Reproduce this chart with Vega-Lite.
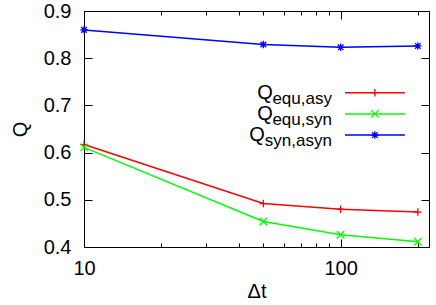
{
  "$schema": "https://vega.github.io/schema/vega-lite/v6.json",
  "width": 345,
  "height": 236,
  "autosize": {"type": "none"},
  "padding": {"left": 84, "top": 11, "right": 7, "bottom": 58},
  "background": "white",
  "config": {
    "font": "Liberation Sans",
    "view": {"stroke": "black", "strokeWidth": 1, "fill": null},
    "axis": {
      "grid": false,
      "labelColor": "black",
      "labelFontSize": 20,
      "titleColor": "black",
      "titleFontSize": 20,
      "titleFontWeight": "normal"
    }
  },
  "datasets": {
    "main": [
      {"dt": 10, "Q": 0.617, "series": "equ,asy"},
      {"dt": 50, "Q": 0.492, "series": "equ,asy"},
      {"dt": 100, "Q": 0.480, "series": "equ,asy"},
      {"dt": 200, "Q": 0.474, "series": "equ,asy"},
      {"dt": 10, "Q": 0.611, "series": "equ,syn"},
      {"dt": 50, "Q": 0.454, "series": "equ,syn"},
      {"dt": 100, "Q": 0.426, "series": "equ,syn"},
      {"dt": 200, "Q": 0.411, "series": "equ,syn"},
      {"dt": 10, "Q": 0.860, "series": "syn,asyn"},
      {"dt": 50, "Q": 0.829, "series": "syn,asyn"},
      {"dt": 100, "Q": 0.823, "series": "syn,asyn"},
      {"dt": 200, "Q": 0.826, "series": "syn,asyn"}
    ],
    "legend": [
      {"series": "equ,asy", "sub": "equ,asy"},
      {"series": "equ,syn", "sub": "equ,syn"},
      {"series": "syn,asyn", "sub": "syn,asyn"}
    ]
  },
  "layer": [
    {
      "data": {"name": "main"},
      "mark": {"type": "line", "strokeWidth": 1.5},
      "encoding": {
        "x": {
          "field": "dt", "type": "quantitative",
          "scale": {"type": "log", "domain": [10, 221], "nice": false},
          "axis": {
            "orient": "bottom",
            "zindex": 1,
            "ticks": true,
            "tickSize": 8,
            "offset": -8,
            "domain": false,
            "tickColor": "black",
            "tickWidth": 1,
            "values": [10, 20, 30, 40, 50, 60, 70, 80, 90, 100, 200],
            "format": "d",
            "labelExpr": "datum.value == 10 || datum.value == 100 ? datum.label : ''",
            "tickDash": {"condition": {"test": "datum.value == 10 || datum.value == 100", "value": [8, 0]}, "value": [0, 4, 4, 0]},
            "labelPadding": 11,
            "labelFlush": false,
            "labelOverlap": false,
            "title": "Δt",
            "titleBaseline": "top",
            "titleY": 42
          }
        },
        "y": {
          "field": "Q", "type": "quantitative",
          "scale": {"domain": [0.4, 0.9], "nice": false, "zero": false},
          "axis": {
            "orient": "left",
            "zindex": 1,
            "ticks": true,
            "tickSize": 8,
            "offset": -8,
            "domain": false,
            "tickColor": "black",
            "tickWidth": 1,
            "values": [0.4, 0.5, 0.6, 0.7, 0.8, 0.9],
            "format": ".1f",
            "labelPadding": 13,
            "labelFlush": false,
            "labelOverlap": false,
            "title": "Q",
            "titlePadding": 13
          }
        },
        "color": {
          "field": "series", "type": "nominal",
          "scale": {"domain": ["equ,asy", "equ,syn", "syn,asyn"], "range": ["#ff0000", "#00ff00", "#0000ff"]},
          "legend": null
        }
      }
    },
    {
      "data": {"name": "main"},
      "mark": {"type": "point", "filled": false, "strokeWidth": 1.3, "size": 56, "opacity": 1},
      "encoding": {
        "x": {
          "field": "dt", "type": "quantitative",
          "scale": {"type": "log", "domain": [10, 221], "nice": false},
          "axis": {
            "orient": "top",
            "zindex": 1,
            "ticks": true,
            "tickSize": 8,
            "offset": -8,
            "domain": false,
            "tickColor": "black",
            "tickWidth": 1,
            "values": [10, 20, 30, 40, 50, 60, 70, 80, 90, 100, 200],
            "labels": false,
            "tickDash": {"condition": {"test": "datum.value == 10 || datum.value == 100", "value": [8, 0]}, "value": [0, 4, 4, 0]},
            "title": null
          }
        },
        "y": {
          "field": "Q", "type": "quantitative",
          "scale": {"domain": [0.4, 0.9], "nice": false, "zero": false},
          "axis": {
            "orient": "right",
            "zindex": 1,
            "ticks": true,
            "tickSize": 8,
            "offset": -8,
            "domain": false,
            "tickColor": "black",
            "tickWidth": 1,
            "values": [0.4, 0.5, 0.6, 0.7, 0.8, 0.9],
            "labels": false,
            "title": null
          }
        },
        "color": {"field": "series", "type": "nominal", "legend": null},
        "shape": {
          "field": "series", "type": "nominal",
          "scale": {
            "domain": ["equ,asy", "equ,syn", "syn,asyn"],
            "range": ["M-1,0L1,0M0,-1L0,1", "M-1,-1L1,1M-1,1L1,-1", "M-1,0L1,0M0,-1L0,1M-0.75,-0.75L0.75,0.75M-0.75,0.75L0.75,-0.75"]
          },
          "legend": null
        }
      }
    },
    {
      "data": {"name": "legend"},
      "mark": {"type": "rule", "strokeWidth": 1.5},
      "encoding": {
        "x": {"datum": 104, "type": "quantitative", "axis": null},
        "x2": {"datum": 178},
        "y": {"field": "series", "type": "nominal", "axis": null,
              "scale": {"type": "point", "domain": ["p0", "p1", "p2", "equ,asy", "equ,syn", "syn,asyn", "p6", "p7", "p8", "p9", "p10"], "padding": 0.566, "align": 0.754}},
        "color": {"field": "series", "type": "nominal", "legend": null}
      }
    },
    {
      "data": {"name": "legend"},
      "mark": {"type": "point", "filled": false, "strokeWidth": 1.3, "size": 56, "opacity": 1},
      "encoding": {
        "x": {"datum": 136, "type": "quantitative", "axis": null},
        "y": {"field": "series", "type": "nominal", "axis": null,
              "scale": {"type": "point", "domain": ["p0", "p1", "p2", "equ,asy", "equ,syn", "syn,asyn", "p6", "p7", "p8", "p9", "p10"], "padding": 0.566, "align": 0.754}},
        "color": {"field": "series", "type": "nominal", "legend": null},
        "shape": {"field": "series", "type": "nominal", "legend": null}
      }
    },
    {
      "data": {"name": "legend"},
      "mark": {"type": "text", "align": "right", "baseline": "alphabetic", "dy": 11, "fontSize": 17, "color": "black"},
      "encoding": {
        "x": {"datum": 92.5, "type": "quantitative", "axis": null},
        "y": {"field": "series", "type": "nominal", "axis": null,
              "scale": {"type": "point", "domain": ["p0", "p1", "p2", "equ,asy", "equ,syn", "syn,asyn", "p6", "p7", "p8", "p9", "p10"], "padding": 0.566, "align": 0.754}},
        "text": {"field": "sub"}
      }
    },
    {
      "data": {"name": "legend"},
      "transform": [{"filter": "datum.series != 'syn,asyn'"}],
      "mark": {"type": "text", "align": "right", "baseline": "alphabetic", "dy": 6, "dx": -59, "fontSize": 20, "color": "black"},
      "encoding": {
        "x": {"datum": 92.5, "type": "quantitative", "axis": null},
        "y": {"field": "series", "type": "nominal", "axis": null,
              "scale": {"type": "point", "domain": ["p0", "p1", "p2", "equ,asy", "equ,syn", "syn,asyn", "p6", "p7", "p8", "p9", "p10"], "padding": 0.566, "align": 0.754}},
        "text": {"value": "Q"}
      }
    },
    {
      "data": {"name": "legend"},
      "transform": [{"filter": "datum.series == 'syn,asyn'"}],
      "mark": {"type": "text", "align": "right", "baseline": "alphabetic", "dy": 6, "dx": -67, "fontSize": 20, "color": "black"},
      "encoding": {
        "x": {"datum": 92.5, "type": "quantitative", "axis": null},
        "y": {"field": "series", "type": "nominal", "axis": null,
              "scale": {"type": "point", "domain": ["p0", "p1", "p2", "equ,asy", "equ,syn", "syn,asyn", "p6", "p7", "p8", "p9", "p10"], "padding": 0.566, "align": 0.754}},
        "text": {"value": "Q"}
      }
    }
  ],
  "resolve": {
    "scale": {"y": "independent"},
    "axis": {"x": "independent", "y": "independent"}
  }
}
